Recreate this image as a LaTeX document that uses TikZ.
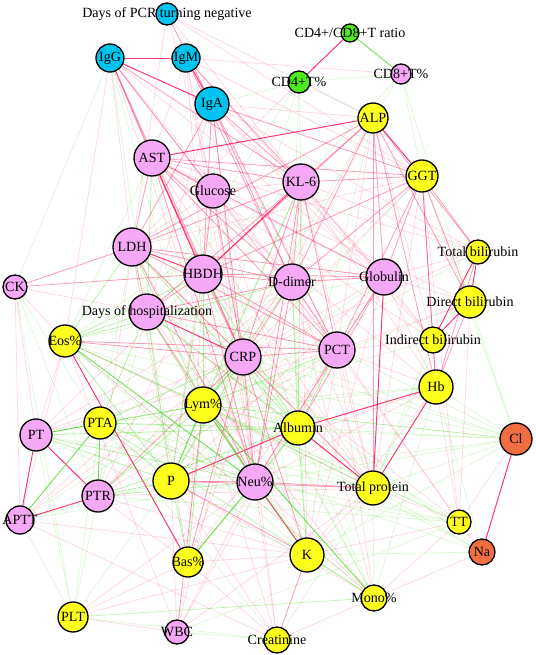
\documentclass[tikz,border=0pt]{standalone}
\usepackage{fontspec}
\setmainfont{Liberation Serif}
\usetikzlibrary{backgrounds}
\definecolor{IgCyan}{RGB}{0,196,240}
\definecolor{LabPink}{RGB}{245,168,245}
\definecolor{LabYellow}{RGB}{255,255,30}
\definecolor{CellGreen}{RGB}{80,235,30}
\definecolor{IonOrange}{RGB}{242,110,64}
\definecolor{PosRed}{RGB}{255,30,95}
\definecolor{NegGreen}{RGB}{60,215,20}
\tikzset{
  v/.style={circle,draw=black,line width=0.75pt,inner sep=0pt},
  cyanv/.style={v,fill=IgCyan},
  pinkv/.style={v,fill=LabPink},
  yellowv/.style={v,fill=LabYellow},
  greenv/.style={v,fill=CellGreen},
  orangev/.style={v,fill=IonOrange},
  lab/.style={font=\fontsize{8}{9}\selectfont,inner sep=0pt},
  rs/.style={draw=PosRed,line width=0.55pt,draw opacity=0.9},
  rm/.style={draw=PosRed,line width=0.45pt,draw opacity=0.45},
  rf/.style={draw=PosRed,line width=0.4pt,draw opacity=0.18},
  gs/.style={draw=NegGreen,line width=0.5pt,draw opacity=0.75},
  gm/.style={draw=NegGreen,line width=0.4pt,draw opacity=0.4},
  gf/.style={draw=NegGreen,line width=0.4pt,draw opacity=0.18},
}

\begin{document}
\begin{tikzpicture}[x=0.02cm,y=-0.02cm]
\useasboundingbox (0,0) rectangle (536,655);
% markers
\node[cyanv,minimum size=0.44cm,label={[lab]center:Days of PCR turning negative}] (pcr) at (167,14) {};
\node[cyanv,minimum size=0.56cm,label={[lab]center:IgG}] (igg) at (110,58) {};
\node[cyanv,minimum size=0.56cm,label={[lab]center:IgM}] (igm) at (186,58) {};
\node[cyanv,minimum size=0.68cm,label={[lab]center:IgA}] (iga) at (212,104) {};
\node[greenv,minimum size=0.36cm,label={[lab]center:CD4+/CD8+T ratio}] (ratio) at (350,33) {};
\node[greenv,minimum size=0.44cm,label={[lab]center:CD4+T\%}] (cdf) at (299,82) {};
\node[pinkv,minimum size=0.40cm,label={[lab]center:CD8+T\%}] (cde) at (401,74) {};
\node[pinkv,minimum size=0.72cm,label={[lab]center:AST}] (ast) at (152,158) {};
\node[pinkv,minimum size=0.68cm,label={[lab]center:Glucose}] (glu) at (213,191) {};
\node[yellowv,minimum size=0.60cm,label={[lab]center:ALP}] (alp) at (373,118) {};
\node[yellowv,minimum size=0.64cm,label={[lab]center:GGT}] (ggt) at (422,176) {};
\node[pinkv,minimum size=0.72cm,label={[lab]center:KL-6}] (kl) at (301,182) {};
\node[pinkv,minimum size=0.76cm,label={[lab]center:LDH}] (ldh) at (132,247) {};
\node[pinkv,minimum size=0.76cm,label={[lab]center:HBDH}] (hbdh) at (203,274) {};
\node[pinkv,minimum size=0.48cm,label={[lab]center:CK}] (ck) at (15,287) {};
\node[pinkv,minimum size=0.72cm,label={[lab]center:D-dimer}] (dd) at (292,282) {};
\node[pinkv,minimum size=0.72cm,label={[lab]center:Globulin}] (glob) at (384,277) {};
\node[yellowv,minimum size=0.48cm,label={[lab]center:Total bilirubin}] (tbil) at (478,252) {};
\node[yellowv,minimum size=0.64cm,label={[lab]center:Direct bilirubin}] (dbil) at (470,302) {};
\node[pinkv,minimum size=0.72cm,label={[lab]center:Days of hospitalization}] (hosp) at (147,312) {};
\node[yellowv,minimum size=0.64cm,label={[lab]center:Eos\%}] (eos) at (65,341) {};
\node[yellowv,minimum size=0.52cm,label={[lab]center:Indirect bilirubin}] (ibil) at (433,340) {};
\node[pinkv,minimum size=0.72cm,label={[lab]center:PCT}] (pct) at (337,350) {};
\node[pinkv,minimum size=0.72cm,label={[lab]center:CRP}] (crp) at (243,357) {};
\node[yellowv,minimum size=0.68cm,label={[lab]center:Hb}] (hb) at (436,387) {};
\node[yellowv,minimum size=0.72cm,label={[lab]center:Lym\%}] (lym) at (203,405) {};
\node[yellowv,minimum size=0.64cm,label={[lab]center:PTA}] (pta) at (100,423) {};
\node[yellowv,minimum size=0.68cm,label={[lab]center:Albumin}] (alb) at (298,428) {};
\node[pinkv,minimum size=0.64cm,label={[lab]center:PT}] (pt) at (36,435) {};
\node[orangev,minimum size=0.64cm,label={[lab]center:Cl}] (cl) at (516,439) {};
\node[yellowv,minimum size=0.72cm,label={[lab]center:P}] (p) at (171,481) {};
\node[pinkv,minimum size=0.72cm,label={[lab]center:Neu\%}] (neu) at (255,482) {};
\node[yellowv,minimum size=0.68cm,label={[lab]center:Total protein}] (tp) at (373,488) {};
\node[pinkv,minimum size=0.64cm,label={[lab]center:PTR}] (ptr) at (98,496) {};
\node[pinkv,minimum size=0.56cm,label={[lab]center:APTT}] (aptt) at (20,520) {};
\node[yellowv,minimum size=0.48cm,label={[lab]center:TT}] (tt) at (459,522) {};
\node[orangev,minimum size=0.52cm,label={[lab]center:Na}] (na) at (482,552) {};
\node[yellowv,minimum size=0.68cm,label={[lab]center:K}] (k) at (307,555) {};
\node[yellowv,minimum size=0.60cm,label={[lab]center:Bas\%}] (bas) at (188,562) {};
\node[yellowv,minimum size=0.52cm,label={[lab]center:Mono\%}] (mono) at (374,598) {};
\node[yellowv,minimum size=0.60cm,label={[lab]center:PLT}] (plt) at (73,617) {};
\node[pinkv,minimum size=0.48cm,label={[lab]center:WBC}] (wbc) at (177,632) {};
\node[yellowv,minimum size=0.52cm,label={[lab]center:Creatinine}] (crea) at (277,640) {};
% correlations
\begin{scope}[on background layer]
\foreach \a/\b in {pcr/ldh,pcr/kl,pcr/glu,pcr/ggt,pcr/alp,igg/ldh,igg/dd,igg/pct,igm/ggt,igm/ast,igm/hbdh,igm/pct,igm/glob,igm/cde,
  iga/glob,iga/alp,iga/hosp,iga/neu,ast/tbil,ast/dbil,glu/kl,glu/dd,glu/pct,glu/neu,glu/ldh,kl/glob,alp/ibil,alp/pct,alp/crp,
  ggt/ldh,ggt/tp,ggt/tt,ggt/crp,cdf/ldh,ck/aptt,ck/pt,ck/eos,ck/hosp,dd/pt,dd/ptr,dd/tp,dd/bas,glob/crp,glob/hb,glob/tbil,glob/neu,
  tbil/crp,dbil/tt,dbil/pct,ibil/pct,eos/pt,eos/aptt,eos/tp,pct/hb,pct/tp,pct/k,pct/tt,pct/pt,pct/mono,crp/pt,crp/aptt,crp/tt,
  hb/neu,hb/p,hb/k,hb/tt,lym/crea,cl/tt,p/crea,p/wbc,neu/mono,neu/wbc,neu/crea,tp/tt,tp/k,tp/ptr,ptr/k,ptr/bas,aptt/k,aptt/crea,
  tt/na,tt/mono,tt/k,na/mono,k/bas,bas/plt,bas/crea,mono/crea,plt/wbc,plt/k,
  igg/glob,igg/neu,igg/eos,igm/crp,igm/neu,iga/tbil,iga/ibil,ast/tp,ast/hb,ast/ibil,glu/glob,glu/alb,glu/p,kl/tbil,kl/ibil,
  kl/hb,kl/tp,kl/k,ldh/tp,ldh/bas,ldh/k,ldh/ptr,hbdh/tp,hbdh/bas,hbdh/ptr,hbdh/pt,dd/mono,dd/tt,dd/aptt,glob/k,glob/p,
  glob/ibil,glob/dbil,crp/wbc,crp/crea,pct/ptr,pct/bas,pct/wbc,neu/plt,p/mono,hosp/tp,hosp/mono,eos/mono,eos/wbc,tp/wbc}
  \draw[rf] (\a) -- (\b);
\foreach \a/\b in {pcr/iga,igg/ast,igg/hbdh,igg/glu,igg/kl,igg/crp,igm/kl,igm/dd,iga/kl,iga/ldh,iga/hbdh,iga/ggt,iga/dd,iga/pct,
  iga/crp,ast/ldh,ast/kl,ast/ggt,ast/dd,ast/crp,ast/glob,ast/pct,ast/glu,ast/neu,glu/crp,glu/hbdh,kl/alp,kl/ggt,kl/ldh,kl/dd,
  kl/crp,kl/pct,kl/neu,kl/hosp,alp/glob,alp/tp,alp/dd,alp/hbdh,alp/ldh,alp/tbil,alp/dbil,alp/hb,ggt/glob,ggt/tbil,ggt/dbil,
  ggt/ibil,ggt/hb,ggt/pct,ggt/dd,ggt/hbdh,ldh/hosp,ldh/crp,ldh/dd,ldh/pct,ldh/ck,ldh/neu,ldh/glob,hbdh/hosp,hbdh/crp,hbdh/dd,
  hbdh/pct,hbdh/neu,hbdh/glob,hbdh/ck,dd/crp,dd/pct,dd/neu,dd/hosp,dd/glob,glob/pct,glob/alb,tbil/hb,dbil/hb,ibil/hb,hosp/neu,
  hosp/pct,eos/crp,eos/pct,pct/crp,pct/neu,crp/neu,crp/bas,crp/k,crp/tp,crp/ptr,p/neu,p/k,p/tp,neu/tp,k/crea,lym/wbc}
  \draw[rm] (\a) -- (\b);
\foreach \a/\b in {ratio/cdf,igg/igm,igg/iga,igm/iga,ast/alp,alp/ggt,ldh/hbdh,ast/hbdh,kl/hbdh,pt/ptr,pt/aptt,ptr/aptt,
  tbil/dbil,tbil/ibil,dbil/ibil,cl/na,alb/tp,glob/tp,hb/tp,hb/alb,eos/bas,p/alb,hosp/crp,neu/k}
  \draw[rs] (\a) -- (\b);
\foreach \a/\b in {igg/ck,igg/lym,igg/hosp,iga/cdf,ast/lym,ast/eos,ast/alb,glu/lym,glu/k,kl/p,kl/eos,kl/cde,kl/cdf,alp/cdf,
  ggt/cl,cde/cdf,cde/ggt,cde/dbil,cde/alp,cdf/hosp,cdf/dd,cdf/lym,ldh/p,ldh/pta,hbdh/k,hbdh/mono,ck/pta,ck/ptr,ck/plt,dd/p,
  dd/k,glob/lym,tbil/tp,dbil/cl,ibil/tp,hosp/ptr,hosp/k,hosp/bas,eos/alb,eos/k,pct/p,pct/cl,crp/mono,hb/cl,hb/na,hb/mono,
  lym/aptt,pta/plt,pta/tp,pta/k,alb/bas,alb/mono,alb/cl,alb/tt,pt/k,pt/tp,pt/plt,cl/tp,cl/neu,cl/p,cl/k,p/plt,p/aptt,neu/tt,
  neu/aptt,tp/mono,tp/na,tp/crea,ptr/plt,ptr/tt,aptt/plt,na/k,bas/wbc,mono/plt,plt/crea,plt/mono,wbc/crea,wbc/tt,
  cl/crp,cl/hosp,cl/eos,cl/pta,na/lym,na/crp,na/pta,tt/lym,tt/p,tt/eos,mono/pta,mono/eos,crea/pta,ibil/lym,dbil/lym,
  tbil/lym,hb/lym,hb/pta,glob/eos,ggt/lym,alp/lym,alp/alb}
  \draw[gf] (\a) -- (\b);
\foreach \a/\b in {ast/hosp,kl/lym,kl/alb,ldh/eos,ldh/lym,ldh/alb,hbdh/lym,hbdh/eos,hbdh/alb,hbdh/p,dd/alb,dd/lym,dd/eos,
  hosp/eos,hosp/lym,hosp/alb,hosp/p,hosp/pta,eos/lym,eos/p,pct/alb,pct/lym,crp/alb,crp/p,crp/pta,lym/alb,lym/pta,lym/ptr,
  lym/k,lym/bas,lym/tp,lym/pt,pta/p,pta/neu,pta/alb,alb/neu,alb/k,alb/ptr,alb/pt,pt/p,pt/neu,cl/lym,p/bas,p/ptr,neu/ptr,k/mono}
  \draw[gm] (\a) -- (\b);
\foreach \a/\b in {ratio/cde,pta/pt,pta/ptr,pta/aptt,lym/neu,neu/bas,eos/neu,lym/p,lym/mono,crp/lym}
  \draw[gs] (\a) -- (\b);
\end{scope}
\end{tikzpicture}
\end{document}
